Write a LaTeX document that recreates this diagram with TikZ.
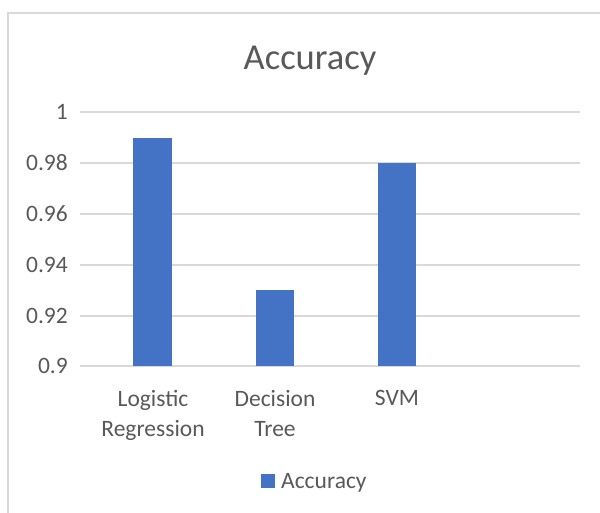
\documentclass[tikz,border=0pt]{standalone}
\usepackage{fontspec}
\setmainfont{Carlito}
\definecolor{txtgray}{HTML}{595959}
\definecolor{gridgray}{HTML}{D9D9D9}
\definecolor{barblue}{HTML}{4472C4}
\begin{document}
\begin{tikzpicture}[x=1pt,y=-1pt,
  ticklbl/.style={text=txtgray,font=\fontsize{23.5}{28}\selectfont,anchor=east,inner sep=0pt},
  catlbl/.style={text=txtgray,font=\fontsize{23.5}{30}\selectfont,align=center,anchor=north,inner sep=0pt},
  gridline/.style={draw=gridgray,line width=1.5pt},
  bar/.style={fill=barblue}]
\useasboundingbox (0,0) rectangle (600,513);
\fill[white] (0,0) rectangle (600,513);
% chart frame (runs past the page on the right and bottom)
\draw[gridgray,line width=1.5pt] (8,530) -- (8,13) -- (620,13);
% title
\node[text=txtgray,font=\fontsize{36.5}{40}\selectfont,inner sep=0pt] (title) at (310,61) {Accuracy};
% horizontal grid and value axis labels
\foreach \v/\y/\n in {1/112/a,0.98/163/b,0.96/214/c,0.94/265/d,0.92/316/e,0.9/366/f}{
  \draw[gridline] (80,\y) -- (580,\y);
  \node[ticklbl] (tick\n) at (68,\y) {\v};
}
% bars
\fill[bar] (133,138) rectangle (172,366);
\fill[bar] (256,290) rectangle (294,366);
\fill[bar] (378,163) rectangle (416,366);
% category labels
\node[catlbl] (catlr) at (153,390) {Logistic\\Regression};
\node[catlbl] (catdt) at (275,390) {Decision\\Tree};
\node[catlbl] (catsvm) at (397,390) {SVM};
% legend
\fill[barblue] (261,474) rectangle (275,488);
\node[text=txtgray,font=\fontsize{23.5}{28}\selectfont,anchor=west,inner sep=0pt] (legend) at (281,483) {Accuracy};
\end{tikzpicture}
\end{document}
